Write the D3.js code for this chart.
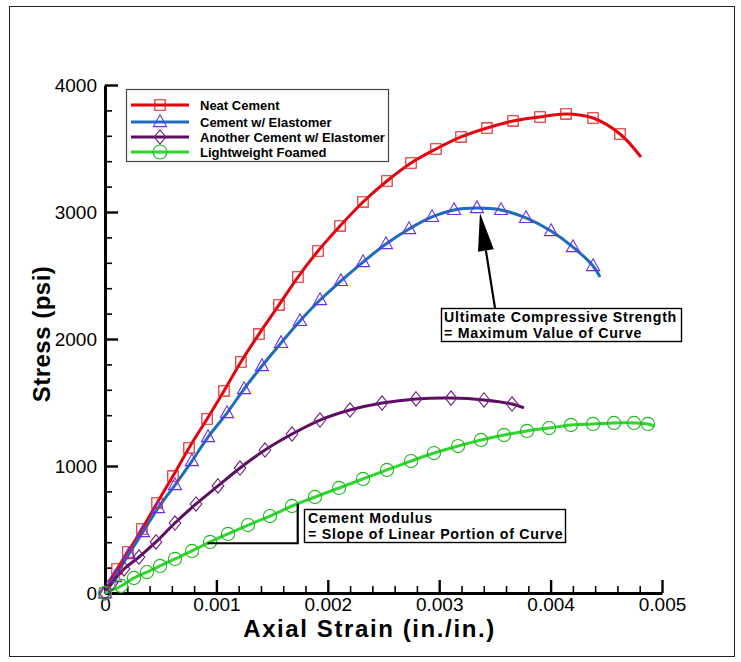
<!DOCTYPE html>
<html>
<head>
<meta charset="utf-8">
<script src="https://cdn.jsdelivr.net/npm/d3@7"></script>
<style>
  body { margin: 0; background: #fff; }
  svg { display: block; }
  text { font-family: "Liberation Sans", Arial, Helvetica, sans-serif; fill: #000; }
</style>
</head>
<body>
<svg id="chart" width="741" height="662"></svg>
<script>
// ---- data: [axial strain (in./in.), stress (psi)] ----
// the final pair of each series is the end of the curve (no symbol drawn there)
const xTicks = [0, 0.001, 0.002, 0.003, 0.004, 0.005];
const yTicks = [0, 1000, 2000, 3000, 4000];

const seriesNames = ["Neat Cement", "Cement w/ Elastomer", "Another Cement w/ Elastomer", "Lightweight Foamed"];

const neatCement = [
  [0, 0], [0.000108, 189], [0.000206, 323], [0.000332, 504], [0.000467, 709],
  [0.00061, 921], [0.000754, 1142], [0.000916, 1370], [0.001068, 1591], [0.00122, 1819],
  [0.001382, 2039], [0.001562, 2268], [0.001732, 2488], [0.001912, 2693], [0.00211, 2890],
  [0.002316, 3079], [0.002531, 3244], [0.002747, 3386], [0.002971, 3496], [0.003196, 3591],
  [0.003429, 3661], [0.003663, 3717], [0.003905, 3748], [0.004138, 3772], [0.004381, 3740],
  [0.004623, 3614], [0.004811, 3433]
];

const cementElastomer = [
  [0, 0], [0.00009, 126], [0.000215, 307], [0.00034, 480], [0.000476, 669],
  [0.000628, 850], [0.00078, 1039], [0.000925, 1228], [0.001095, 1417], [0.001248, 1606],
  [0.001409, 1787], [0.00158, 1969], [0.00175, 2142], [0.00193, 2307], [0.002118, 2457],
  [0.002316, 2606], [0.002522, 2748], [0.002729, 2866], [0.002936, 2961], [0.003133, 3016],
  [0.003339, 3031], [0.003555, 3016], [0.003779, 2953], [0.004004, 2850], [0.004201, 2724],
  [0.004381, 2575], [0.004444, 2488]
];

const anotherElastomer = [
  [0, 0], [0.000063, 79], [0.000171, 189], [0.000305, 283], [0.000458, 402],
  [0.000628, 551], [0.000817, 701], [0.001014, 843], [0.001212, 984], [0.001436, 1126],
  [0.001679, 1252], [0.00193, 1362], [0.002199, 1441], [0.002487, 1496], [0.002792, 1528],
  [0.003106, 1535], [0.003402, 1520], [0.003654, 1488], [0.003761, 1457]
];

const lightweightFoamed = [
  [0, 0], [0.000144, 55], [0.00026, 118], [0.000377, 165], [0.000494, 213],
  [0.000628, 268], [0.000781, 331], [0.000943, 402], [0.001104, 465], [0.001284, 535],
  [0.001481, 606], [0.001679, 685], [0.001885, 756], [0.002101, 827], [0.002316, 898],
  [0.002531, 969], [0.002747, 1039], [0.002953, 1102], [0.003169, 1157], [0.003375, 1205],
  [0.003582, 1244], [0.003788, 1276], [0.003986, 1299], [0.004183, 1323], [0.004381, 1331],
  [0.004569, 1339], [0.004749, 1339], [0.004874, 1331], [0.004928, 1315]
];

// ---- styling per series ----
const styles = [
  { data: neatCement,        line: "#e2050f", mark: "#e01b1b", shape: "square" },
  { data: cementElastomer,   line: "#1c6cc0", mark: "#6a2cf2", shape: "triangle" },
  { data: anotherElastomer,  line: "#5c0f60", mark: "#6e1a80", shape: "diamond" },
  { data: lightweightFoamed, line: "#2ed62e", mark: "#1fb81f", shape: "circle" }
];

const svg = d3.select("#chart");

// outer frame
svg.append("rect").attr("x", 9.5).attr("y", 6.5).attr("width", 725).attr("height", 650)
  .attr("fill", "none").attr("stroke", "#222").attr("stroke-width", 1);

const x = d3.scaleLinear().domain([0, 0.005]).range([105, 662]);
const y = d3.scaleLinear().domain([0, 4000]).range([593, 85]);

// ---- axes (ticks point inward) ----
const minorX = d3.range(0, 0.00501, 0.0002).filter(v => Math.abs(v / 0.001 - Math.round(v / 0.001)) > 1e-6);
const minorY = d3.range(0, 4001, 200).filter(v => v % 1000 !== 0);

const fmtX = d => d === 0 ? "0" : d3.format(".3f")(d);

const gx = svg.append("g").attr("transform", `translate(0,${y(0)})`);
gx.call(d3.axisBottom(x).tickValues(minorX).tickSize(-7).tickSizeOuter(0).tickFormat(""));
gx.call(g => g.selectAll(".domain").remove());
const gxMajor = svg.append("g").attr("transform", `translate(0,${y(0)})`)
  .call(d3.axisBottom(x).tickValues(xTicks).tickSize(-13).tickSizeOuter(0).tickPadding(5).tickFormat(fmtX));

const gy = svg.append("g").attr("transform", `translate(${x(0)},0)`);
gy.call(d3.axisLeft(y).tickValues(minorY).tickSize(-7).tickSizeOuter(0).tickFormat(""));
gy.call(g => g.selectAll(".domain").remove());
const gyMajor = svg.append("g").attr("transform", `translate(${x(0)},0)`)
  .call(d3.axisLeft(y).tickValues(yTicks).tickSize(-13).tickSizeOuter(0).tickPadding(8).tickFormat(d3.format("d")));

svg.selectAll(".tick line").attr("stroke", "#000").attr("stroke-width", 1.6);
[gxMajor, gyMajor].forEach(g => {
  g.selectAll(".tick line").attr("stroke-width", 2.4);
  g.select(".domain").attr("stroke", "#000").attr("stroke-width", 3);
  g.selectAll("text").attr("font-size", 19).attr("fill", "#000")
    .attr("font-family", "'Liberation Sans', Arial, sans-serif");
});

// axis titles
svg.append("text").attr("x", x(0.0025) - 14).attr("y", 637).attr("text-anchor", "middle")
  .attr("font-size", 24).attr("font-weight", "bold").attr("letter-spacing", 1.6)
  .text("Axial Strain (in./in.)");
svg.append("text").attr("transform", `translate(50,${y(2000) - 5}) rotate(-90)`).attr("text-anchor", "middle")
  .attr("font-size", 24).attr("font-weight", "bold").attr("letter-spacing", 0.5)
  .text("Stress (psi)");

// ---- markers ----
function markerPath(shape) {
  switch (shape) {
    case "square":   return "M-5.2,-5.2H5.2V5.2H-5.2Z";
    case "triangle": return "M0,-7.2L6.6,4.6H-6.6Z";
    default:         return "M0,-7.2L5.8,0L0,7.2L-5.8,0Z";
  }
}

const line = d3.line().x(d => x(d[0])).y(d => y(d[1])).curve(d3.curveCatmullRom.alpha(0.5));

const plot = svg.append("g");
styles.forEach(s => {
  plot.append("path").attr("d", line(s.data)).attr("fill", "none")
    .attr("stroke", s.line).attr("stroke-width", 3).attr("stroke-linejoin", "round");
});
styles.forEach(s => {
  const pts = s.data.slice(0, -1);
  const g = plot.append("g");
  if (s.shape === "circle") {
    g.selectAll("circle").data(pts).join("circle")
      .attr("cx", d => x(d[0])).attr("cy", d => y(d[1])).attr("r", 6.6)
      .attr("fill", "none").attr("stroke", s.mark).attr("stroke-width", 1.1);
  } else {
    g.selectAll("path").data(pts).join("path")
      .attr("transform", d => `translate(${x(d[0])},${y(d[1])})`)
      .attr("d", markerPath(s.shape))
      .attr("fill", "none").attr("stroke", s.mark).attr("stroke-width", 1.1);
  }
});

// ---- legend ----
const legend = svg.append("g");
legend.append("rect").attr("x", 126.5).attr("y", 89.5).attr("width", 262).attr("height", 72)
  .attr("fill", "#fff").attr("stroke", "#444").attr("stroke-width", 1.2);
const rowY = [105, 122, 137, 152];
styles.forEach((s, i) => {
  const ry = rowY[i];
  legend.append("line").attr("x1", 131).attr("x2", 189).attr("y1", ry).attr("y2", ry)
    .attr("stroke", s.line).attr("stroke-width", 3);
  if (s.shape === "circle") {
    legend.append("circle").attr("cx", 160).attr("cy", ry).attr("r", 7)
      .attr("fill", "none").attr("stroke", s.mark).attr("stroke-width", 1.1);
  } else {
    legend.append("path").attr("transform", `translate(160,${ry})`).attr("d", markerPath(s.shape))
      .attr("fill", "none").attr("stroke", s.mark).attr("stroke-width", 1.1);
  }
  legend.append("text").attr("x", 200).attr("y", ry + 4.6).attr("font-size", 13)
    .attr("font-weight", "bold").text(seriesNames[i]);
});

// ---- annotation: ultimate compressive strength (arrow to the peak of the elastomer curve) ----
const peak = cementElastomer.reduce((a, b) => (b[1] > a[1] ? b : a));
const tip = [x(peak[0]) + 3, y(peak[1]) + 5];
const tail = [495, 308];
const ann = svg.append("g");
{
  const dx = tip[0] - tail[0], dy = tip[1] - tail[1];
  const len = Math.hypot(dx, dy), ux = dx / len, uy = dy / len;
  const headLen = 38, headHalf = 8;
  const bx = tip[0] - ux * headLen, by = tip[1] - uy * headLen;
  ann.append("line").attr("x1", tail[0]).attr("y1", tail[1]).attr("x2", bx).attr("y2", by)
    .attr("stroke", "#000").attr("stroke-width", 2.2);
  ann.append("path").attr("d", `M${tip[0]},${tip[1]}L${bx - uy * headHalf},${by + ux * headHalf}L${bx + uy * headHalf},${by - ux * headHalf}Z`)
    .attr("fill", "#000");
}
ann.append("rect").attr("x", 441.5).attr("y", 308.5).attr("width", 240).attr("height", 33)
  .attr("fill", "#fff").attr("stroke", "#000").attr("stroke-width", 1.4);
ann.append("text").attr("x", 444).attr("y", 321.5).attr("font-size", 14.2).attr("font-weight", "bold")
  .attr("letter-spacing", 0.75).text("Ultimate Compressive Strength");
ann.append("text").attr("x", 444).attr("y", 338).attr("font-size", 14.2).attr("font-weight", "bold")
  .attr("letter-spacing", 0.75).text("= Maximum Value of Curve");

// ---- annotation: modulus (slope step on the foamed curve) ----
function stressAt(series, strain) {
  for (let i = 1; i < series.length; i++) {
    const [x0, y0] = series[i - 1], [x1, y1] = series[i];
    if (strain <= x1) return y0 + (y1 - y0) * (strain - x0) / (x1 - x0);
  }
  return series[series.length - 1][1];
}
const s0 = 0.00092, s1 = 0.00173;
const p0 = [x(s0), y(stressAt(lightweightFoamed, s0))];
const p1 = [x(s1), y(stressAt(lightweightFoamed, s1))];
ann.append("path").attr("d", `M${p0[0]},${p0[1]}H${p1[0]}V${p1[1]}`)
  .attr("fill", "none").attr("stroke", "#000").attr("stroke-width", 2.2);
ann.append("rect").attr("x", 304.5).attr("y", 509.5).attr("width", 261).attr("height", 33)
  .attr("fill", "#fff").attr("stroke", "#000").attr("stroke-width", 1.4);
ann.append("text").attr("x", 308).attr("y", 522.5).attr("font-size", 14.2).attr("font-weight", "bold")
  .attr("letter-spacing", 0.75).text("Cement Modulus");
ann.append("text").attr("x", 308).attr("y", 539).attr("font-size", 14.2).attr("font-weight", "bold")
  .attr("letter-spacing", 0.75).text("= Slope of Linear Portion of Curve");
</script>
</body>
</html>
